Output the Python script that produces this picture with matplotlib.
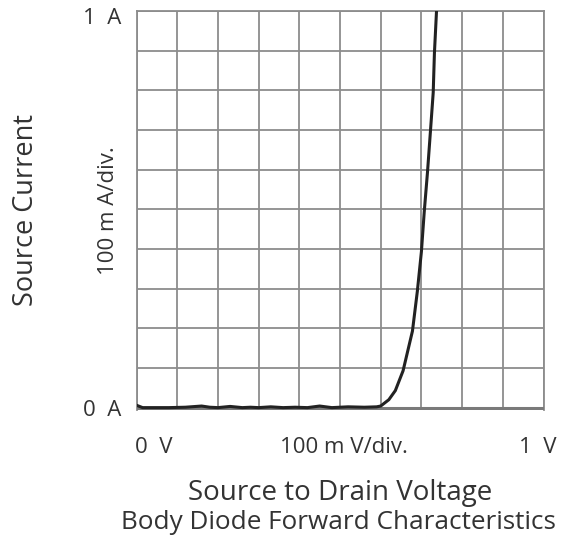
import numpy as np
import matplotlib
matplotlib.use("Agg")
import matplotlib.pyplot as plt

plt.rcParams["font.family"] = ["Open Sans", "DejaVu Sans"]

# ── data (V, A) ─────────────────────────────────────────────────
volts = [0.000, 0.015, 0.040, 0.080, 0.120, 0.160, 0.180, 0.200, 0.230,
         0.260, 0.280, 0.300, 0.330, 0.360, 0.390, 0.420, 0.450, 0.480,
         0.520, 0.560, 0.590, 0.600, 0.620, 0.636, 0.655, 0.678, 0.690,
         0.700, 0.707, 0.715, 0.722, 0.729, 0.732, 0.737, 0.740]
amps = [0.006, 0.000, 0.000, 0.000, 0.001, 0.004, 0.001, 0.000, 0.003,
        0.000, 0.001, 0.000, 0.002, 0.000, 0.001, 0.000, 0.004, 0.000,
        0.002, 0.001, 0.002, 0.004, 0.020, 0.043, 0.093, 0.193, 0.293,
        0.393, 0.494, 0.594, 0.694, 0.794, 0.894, 0.997, 1.050]

x_ticks = np.arange(0, 1.01, 0.1)
y_ticks = np.arange(0, 1.01, 0.1)

txt_c = "#333333"
grid_c = "#8c8c8c"

fig = plt.figure(figsize=(5.72, 5.45), dpi=100)
ax = fig.add_axes([136.5 / 572, (545 - 410) / 545, 407 / 572, 399 / 545])

ax.plot(volts, amps, color="#222222", lw=2.2, zorder=5, clip_on=True,
        solid_joinstyle="round")
ax.set_xlim(0, 1)
ax.set_ylim(-0.006, 1)

ax.set_xticks(x_ticks)
ax.set_yticks(y_ticks)
ax.grid(True, color=grid_c, lw=1.3)
ax.tick_params(length=0, labelleft=False, labelbottom=False)
for s in ["left", "top", "right"]:
    ax.spines[s].set_color(grid_c)
    ax.spines[s].set_linewidth(1.3)
ax.spines["bottom"].set_visible(False)
ax.axhline(0, color="#7a7a7a", lw=2.2, zorder=4)

# ── labels ───────────────────────────────────────────────────────
tick_fs = 16
ax.text(-0.038, 0.982, "1  A", transform=ax.transAxes, ha="right", va="center",
        fontsize=tick_fs, color=txt_c)
ax.text(-0.038, 0.0, "0  A", transform=ax.transAxes, ha="right", va="center",
        fontsize=tick_fs, color=txt_c)
ax.text(-0.07, 0.5, "100 m A/div.", transform=ax.transAxes, ha="center",
        va="center", rotation=90, fontsize=tick_fs, color=txt_c)
ax.text(-0.271, 0.5, "Source Current", transform=ax.transAxes, ha="center",
        va="center", rotation=90, fontsize=19.5, color=txt_c)

ax.text(0.043, -0.093, "0  V", transform=ax.transAxes, ha="center", va="center",
        fontsize=tick_fs, color=txt_c)
ax.text(0.51, -0.093, "100 m V/div.", transform=ax.transAxes, ha="center",
        va="center", fontsize=tick_fs, color=txt_c)
ax.text(0.986, -0.093, "1  V", transform=ax.transAxes, ha="center", va="center",
        fontsize=tick_fs, color=txt_c)

ax.text(0.5, -0.207, "Source to Drain Voltage", transform=ax.transAxes,
        ha="center", va="center", fontsize=20, color=txt_c)
ax.text(0.496, -0.282, "Body Diode Forward Characteristics", transform=ax.transAxes,
        ha="center", va="center", fontsize=18.8, color=txt_c)

fig.savefig("out.png", dpi=100, facecolor="white")
